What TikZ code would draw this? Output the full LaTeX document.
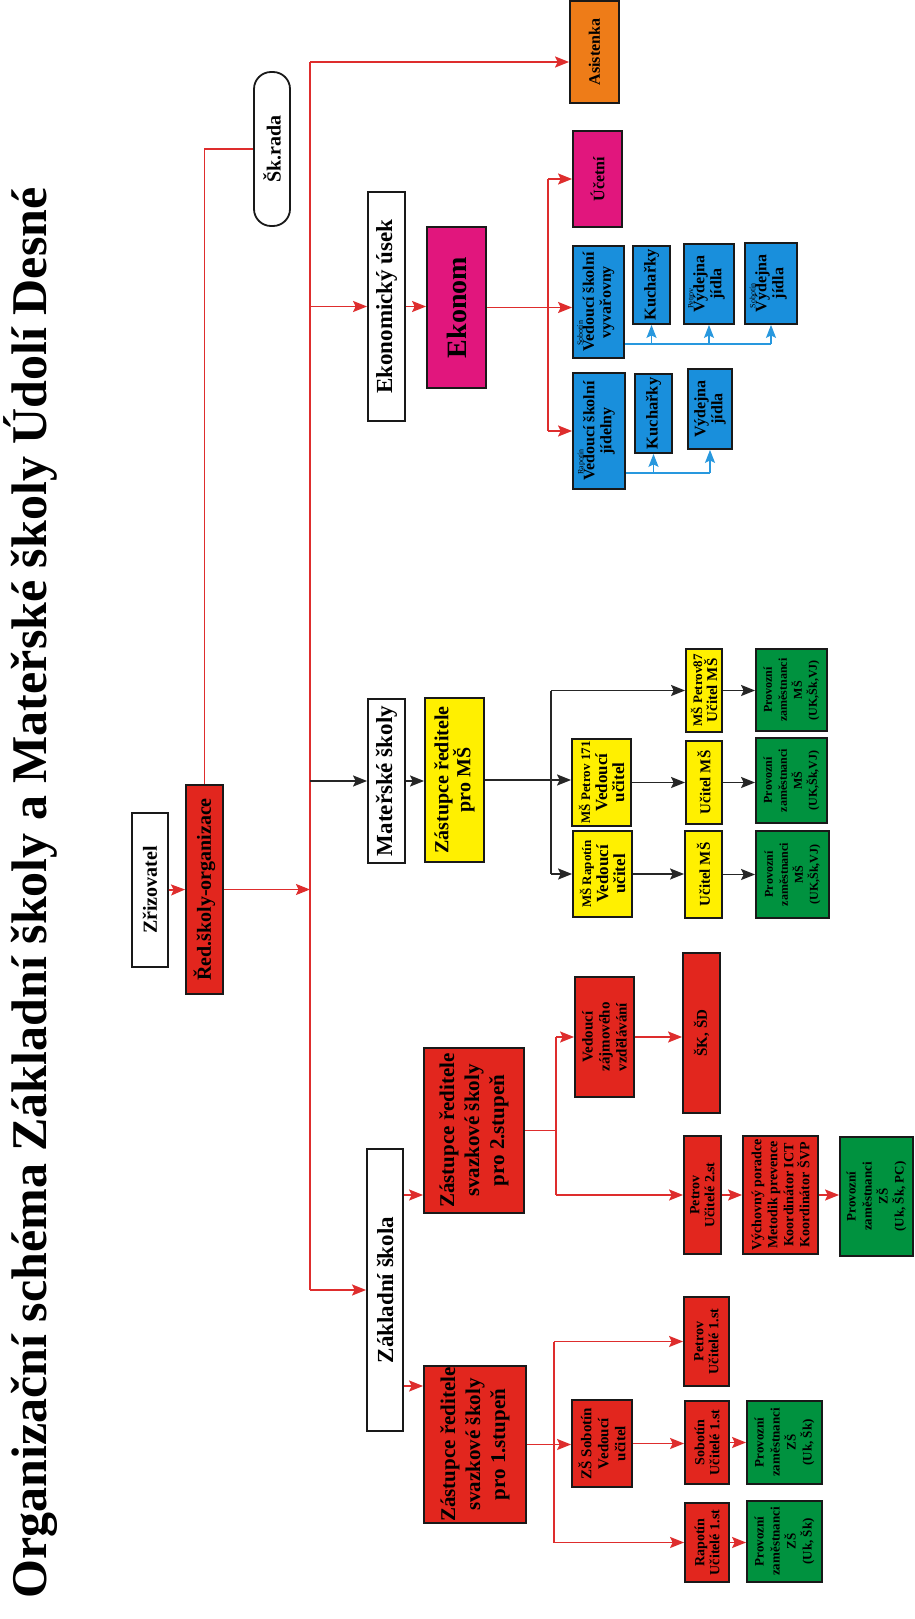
\documentclass[tikz,border=0pt]{standalone}
\usepackage{fontspec}
\setmainfont{Liberation Serif}
\usetikzlibrary{arrows.meta, calc}

\definecolor{zred}{RGB}{226,38,30}
\definecolor{zmag}{RGB}{225,22,125}
\definecolor{zorange}{RGB}{238,124,24}
\definecolor{zyel}{RGB}{255,240,0}
\definecolor{zgrn}{RGB}{0,146,63}
\definecolor{zblu}{RGB}{25,143,220}
\definecolor{lred}{RGB}{222,45,45}
\definecolor{lblu}{RGB}{40,152,222}

\newcommand{\fsz}[2]{\fontsize{#1}{#2}\selectfont}
\newcommand{\smalltag}[1]{\makebox[0pt][l]{\raisebox{11pt}[0pt][0pt]{\mdseries\fsz{8}{8}#1}}}

\begin{document}
\begin{tikzpicture}[
    x=1pt, y=-1pt,
    box/.style={
        draw=black!90,
        line width=1.8pt,
        rotate=90,
        align=center,
        inner sep=1pt,
        text=black,
        font=\bfseries
    },
    sz/.style 2 args={minimum width=#1pt, minimum height=#2pt},
    plain/.style={box, fill=white},
    redbox/.style={box, fill=zred},
    magbox/.style={box, fill=zmag},
    orgbox/.style={box, fill=zorange},
    yelbox/.style={box, fill=zyel},
    grnbox/.style={box, fill=zgrn},
    blubox/.style={box, fill=zblu},
    rline/.style={draw=lred, line width=1.7pt},
    rarrow/.style={rline, -{Stealth[length=14pt, width=11pt, inset=2.5pt]}},
    kline/.style={draw=black!85, line width=1.7pt},
    karrow/.style={kline, -{Stealth[length=14pt, width=11pt, inset=2.5pt]}},
    bline/.style={draw=lblu, line width=1.7pt},
    barrow/.style={bline, -{Stealth[length=13pt, width=10pt, inset=2.5pt]}}
]
\useasboundingbox (0,0) rectangle (914,1619);

% Title
\node[rotate=90, font=\fsz{50}{50}\bfseries] (title) at (31,893)
    {Organizační schéma Základní školy a Mateřské školy Údolí Desné};

% Top
\node (skrada) [plain, sz={154}{36}, rounded corners=17pt, font=\fsz{20}{20}\bfseries] at (272,149) {Šk.rada};
\node (zriz) [plain, sz={154}{36}, font=\fsz{20}{20}\bfseries] at (150,890) {Zřizovatel};
\node (red) [redbox, sz={209}{37}, font=\fsz{20}{20}\bfseries] at (204.5,889.5) {Řed.školy-organizace};
\node (asist) [orgbox, sz={102}{49}, font=\fsz{16}{16}\bfseries] at (594.5,52) {Asistenka};

% Ekonomicky usek
\node (eku) [plain, sz={229}{37}, font=\fsz{23}{23}\bfseries] at (386.5,306.5) {Ekonomický úsek};
\node (ekonom) [magbox, sz={161}{59}, font=\fsz{28}{28}\bfseries] at (456.5,307.5) {Ekonom};
\node (ucetni) [magbox, sz={96}{49}, font=\fsz{16}{16}\bfseries] at (597.5,179) {Účetní};
\node (vsv) [blubox, sz={112}{51}, font=\fsz{16}{17}\bfseries] at (598.5,302) {\smalltag{\hspace{6pt}Sobotín}Vedoucí školní\\vyvařovny};
\node (kuch1) [blubox, sz={78}{37}, font=\fsz{16.5}{17}\bfseries] at (651.5,285) {Kuchařky};
\node (vyd1) [blubox, sz={80}{50}, font=\fsz{16}{17}\bfseries] at (709,284) {\smalltag{\hspace{4pt}Petrov}Výdejna\\jídla};
\node (vyd2) [blubox, sz={81}{52}, font=\fsz{16}{17}\bfseries] at (771,283.5) {\smalltag{\hspace{4pt}Sobotín}Výdejna\\jídla};
\node (vsj) [blubox, sz={116}{52}, font=\fsz{16}{17}\bfseries] at (599,431) {\smalltag{\hspace{6pt}Rapotín}Vedoucí školní\\jídelny};
\node (kuch2) [blubox, sz={79}{37}, font=\fsz{16.5}{17}\bfseries] at (653.5,413.5) {Kuchařky};
\node (vyd3) [blubox, sz={80}{44}, font=\fsz{16}{17}\bfseries] at (710,409) {Výdejna\\jídla};

% Materske skoly
\node (msk) [plain, sz={164}{37}, font=\fsz{23}{23}\bfseries] at (386.5,781) {Mateřské školy};
\node (zms) [yelbox, sz={164}{59}, font=\fsz{20}{22}\bfseries] at (454.5,780) {Zástupce ředitele\\pro MŠ};
\node (msp171) [yelbox, sz={87}{59}, font=\fsz{17}{17}\bfseries] at (601.5,782.5) {{\fsz{13}{13}MŠ Petrov 171}\\Vedoucí\\učitel};
\node (msr) [yelbox, sz={86}{59}, font=\fsz{17}{17}\bfseries] at (602.5,874) {{\fsz{13}{13}MŠ Rapotín}\\Vedoucí\\učitel};
\node (msp87) [yelbox, sz={83}{36}, font=\fsz{15}{15}\bfseries] at (704,690.5) {{\fsz{13}{13}MŠ Petrov87}\\Učitel MŠ};
\node (uc171) [yelbox, sz={83}{36}, font=\fsz{15}{15}\bfseries] at (704,782.5) {Učitel MŠ};
\node (ucr) [yelbox, sz={87}{37}, font=\fsz{15}{15}\bfseries] at (703.5,874.5) {Učitel MŠ};
\node (pzm1) [grnbox, sz={82}{71}, font=\fsz{12}{15}\bfseries] at (791.5,690) {Provozní\\zaměstnanci\\MŠ\\(UK,Šk,VJ)};
\node (pzm2) [grnbox, sz={85}{71}, font=\fsz{12}{15}\bfseries] at (791.5,780.5) {Provozní\\zaměstnanci\\MŠ\\(UK,Šk,VJ)};
\node (pzm3) [grnbox, sz={87}{73}, font=\fsz{12}{15}\bfseries] at (792.5,874.5) {Provozní\\zaměstnanci\\MŠ\\(UK,Šk,VJ)};

% Zakladni skola
\node (zs) [plain, sz={282}{36}, font=\fsz{23}{23}\bfseries] at (385,1290) {Základní škola};
\node (zsd2) [redbox, sz={165}{100}, font=\fsz{21}{25}\bfseries] at (474,1130.5) {Zástupce ředitele\\svazkové školy\\pro 2.stupeň};
\node (zsd1) [redbox, sz={155}{102}, font=\fsz{21}{25}\bfseries] at (475,1444.5) {Zástupce ředitele\\svazkové školy\\pro 1.stupeň};
\node (vzv) [redbox, sz={120}{59}, font=\fsz{15}{17}\bfseries] at (604.5,1037) {Vedoucí\\zájmového\\vzdělávání};
\node (sksd) [redbox, sz={160}{37}, font=\fsz{15}{15}\bfseries] at (701.5,1033) {ŠK, ŠD};
\node (petrov2) [redbox, sz={118}{37}, font=\fsz{14}{15}\bfseries] at (702.5,1195) {Petrov\\Učitelé 2.st};
\node (vych) [redbox, sz={118}{75}, font=\fsz{14}{16}\bfseries] at (780.5,1195) {Výchovný poradce\\Metodik prevence\\Koordinátor ICT\\Koordinátor ŠVP};
\node (pzz2) [grnbox, sz={119}{73}, font=\fsz{13}{16}\bfseries] at (876.5,1196.5) {Provozní\\zaměstnanci\\ZŠ\\(Uk, Šk, PC)};
\node (zss) [redbox, sz={87}{60}, font=\fsz{15}{17}\bfseries] at (602,1443.5) {ZŠ Sobotín\\Vedoucí\\učitel};
\node (petrov1) [redbox, sz={89}{45}, font=\fsz{14}{15}\bfseries] at (706.5,1341.5) {Petrov\\Učitelé 1.st};
\node (sob1) [redbox, sz={83}{44}, font=\fsz{14}{15}\bfseries] at (707,1442.5) {Sobotín\\Učitelé 1.st};
\node (rap1) [redbox, sz={79}{44}, font=\fsz{14}{15}\bfseries] at (707,1542.5) {Rapotín\\Učitelé 1.st};
\node (pzs1) [grnbox, sz={83}{75}, font=\fsz{13}{16}\bfseries] at (784.5,1442.5) {Provozní\\zaměstnanci\\ZŠ\\(Uk, Šk)};
\node (pzr1) [grnbox, sz={81}{75}, font=\fsz{13}{16}\bfseries] at (784.5,1541.5) {Provozní\\zaměstnanci\\ZŠ\\(Uk, Šk)};

% Trunk
\coordinate (ttop) at (310,62);
\coordinate (tbot) at (310,1290);
\coordinate (ebus) at (548,0);
\coordinate (mbus) at (551,0);
\coordinate (bus2) at (556,0);
\coordinate (bus1) at (554,0);

\draw [rarrow] (zriz.south) -- (red.north);
\draw [rline] (red.east) |- (skrada.north);
\draw [rline] (ttop) -- (tbot);
\draw [rarrow] (red.south) -- (red.south -| ttop);
\draw [rarrow] (ttop) -- (ttop -| asist.north);

% Ekonom paths
\draw [rarrow] (eku.north -| ttop) -- (eku.north);
\draw [rarrow] (eku.south) -- (eku.south -| ekonom.north);
\draw [rline] (ebus |- ucetni.north) -- (ebus |- vsj.north);
\draw [rarrow] (ekonom.south) -- (ekonom.south -| vsv.north);
\draw [rarrow] (ebus |- ucetni.north) -- (ucetni.north);
\draw [rarrow] (ebus |- vsj.north) -- (vsj.north);

\coordinate (vb1) at ($(vsv.south)+(0,42)$);
\draw [bline] (vb1) -- (vb1 -| vyd2.west);
\draw [barrow] (vb1 -| kuch1.west) -- (kuch1.west);
\draw [barrow] (vb1 -| vyd1.west) -- (vyd1.west);
\draw [barrow] (vb1 -| vyd2.west) -- (vyd2.west);
\coordinate (vb2) at ($(vsj.south)+(0,42)$);
\draw [bline] (vb2) -- (vb2 -| vyd3.west);
\draw [barrow] (vb2 -| kuch2.west) -- (kuch2.west);
\draw [barrow] (vb2 -| vyd3.west) -- (vyd3.west);

% MS paths
\draw [karrow] (msk.north -| ttop) -- (msk.north);
\draw [karrow] (msk.south) -- (msk.south -| zms.north);
\draw [kline] (mbus |- msp87.north) -- (mbus |- msr.north);
\draw [karrow] (zms.south) -- (zms.south -| msp171.north);
\draw [karrow] (mbus |- msp87.north) -- (msp87.north);
\draw [karrow] (mbus |- msr.north) -- (msr.north);
\draw [karrow] (msp171.south) -- (msp171.south -| uc171.north);
\draw [karrow] (msr.south) -- (msr.south -| ucr.north);
\draw [karrow] (msp87.south) -- (msp87.south -| pzm1.north);
\draw [karrow] (uc171.south) -- (uc171.south -| pzm2.north);
\draw [karrow] (ucr.south) -- (ucr.south -| pzm3.north);

% ZS paths
\draw [rarrow] (tbot) -- (zs.north);
\coordinate (z2) at ($(zs.south)+(0,-95)$);
\coordinate (z1) at ($(zs.south)+(0,96)$);
\draw [rarrow] (z2) -- (z2 -| zsd2.north);
\draw [rarrow] (z1) -- (z1 -| zsd1.north);
\draw [rline] (zsd2.south) -- (zsd2.south -| bus2);
\draw [rline] (bus2 |- vzv.north) -- (bus2 |- petrov2.north);
\draw [rarrow] (bus2 |- vzv.north) -- (vzv.north);
\draw [rarrow] (bus2 |- petrov2.north) -- (petrov2.north);
\draw [rarrow] (vzv.south) -- (vzv.south -| sksd.north);
\draw [rarrow] (petrov2.south) -- (petrov2.south -| vych.north);
\draw [rarrow] (vych.south) -- (vych.south -| pzz2.north);
\draw [rline] (bus1 |- petrov1.north) -- (bus1 |- rap1.north);
\draw [rarrow] (zsd1.south) -- (zsd1.south -| zss.north);
\draw [rarrow] (bus1 |- petrov1.north) -- (petrov1.north);
\draw [rarrow] (bus1 |- rap1.north) -- (rap1.north);
\draw [rarrow] (zss.south) -- (zss.south -| sob1.north);
\draw [rarrow] (sob1.south) -- (sob1.south -| pzs1.north);
\draw [rarrow] (rap1.south) -- (rap1.south -| pzr1.north);

\end{tikzpicture}
\end{document}
